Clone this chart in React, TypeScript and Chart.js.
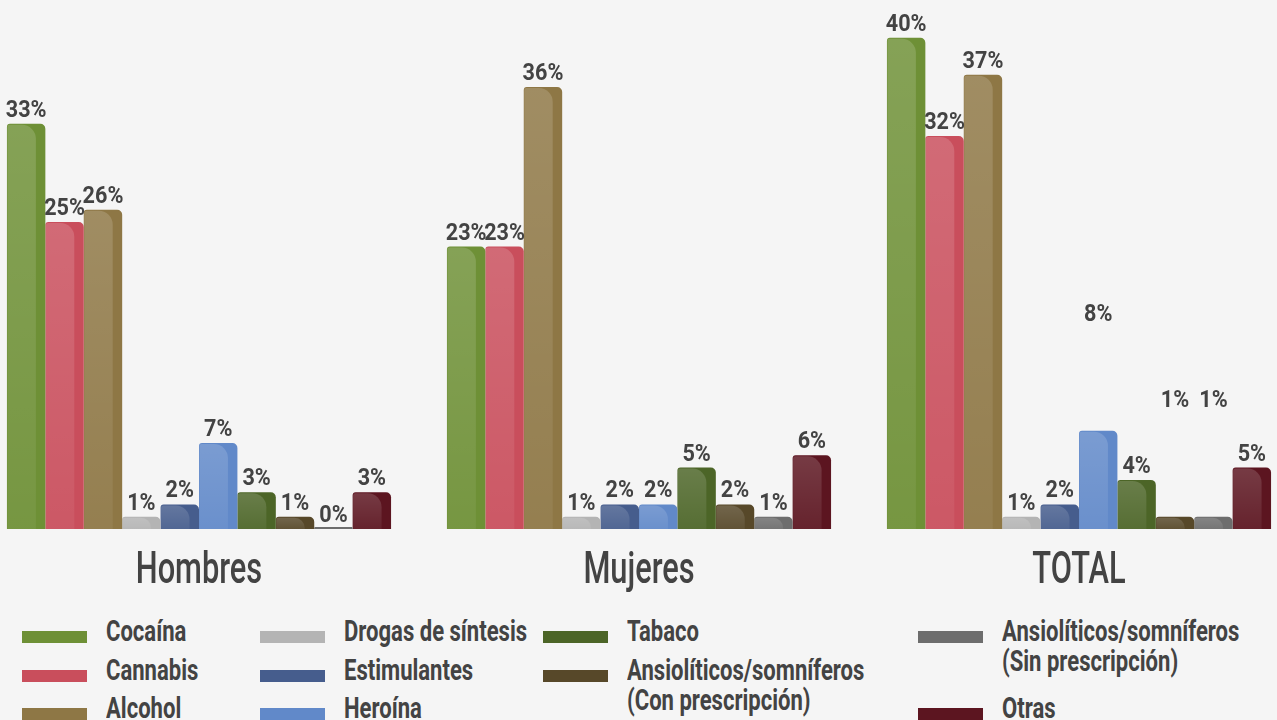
import React, { useEffect, useRef } from 'react';
import { Chart, registerables } from 'chart.js';

Chart.register(...registerables);

// ---------- data ----------
const categories = ['Hombres', 'Mujeres', 'TOTAL'];

const seriesNames = [
  'Cocaína',
  'Cannabis',
  'Alcohol',
  'Drogas de síntesis',
  'Estimulantes',
  'Heroína',
  'Tabaco',
  'Ansiolíticos/somníferos\n(Con prescripción)',
  'Ansiolíticos/somníferos\n(Sin prescripción)',
  'Otras',
];

const seriesColors = [
  '#6e9036',
  '#c94e5c',
  '#8e7745',
  '#b4b4b4',
  '#465d8d',
  '#6189c9',
  '#4c6527',
  '#574829',
  '#6d6d6d',
  '#5c1520',
];

const cocaina = [33, 23, 40];
const cannabis = [25, 23, 32];
const alcohol = [26, 36, 37];
const drogasSintesis = [1, 1, 1];
const estimulantes = [2, 2, 2];
const heroina = [7, 2, 8];
const tabaco = [3, 5, 4];
const ansioCon = [1, 2, 1];
const ansioSin = [0, 1, 1];
const otras = [3, 6, 5];

// value level (in %) at which the label is drawn (the original places some TOTAL labels higher)
const heroinaLabelLevel = [7, 2, 16.4];
const ansioConLabelLevel = [1, 2, 9.4];
const ansioSinLabelLevel = [0, 1, 9.4];

const seriesValues = [
  cocaina,
  cannabis,
  alcohol,
  drogasSintesis,
  estimulantes,
  heroina,
  tabaco,
  ansioCon,
  ansioSin,
  otras,
];

const labelLevels = [
  cocaina,
  cannabis,
  alcohol,
  drogasSintesis,
  estimulantes,
  heroinaLabelLevel,
  tabaco,
  ansioConLabelLevel,
  ansioSinLabelLevel,
  otras,
];

// ---------- legend layout ----------
const legendCols = [22, 260, 543, 918];
const legendRowBaselines = [641, 680, 718];
const legendPlacement: [number, number][] = [
  [0, 0],
  [0, 1],
  [0, 2],
  [1, 0],
  [1, 1],
  [1, 2],
  [2, 0],
  [2, 1],
  [3, 0],
  [3, 2],
];

const TEXT = '#434343';
const BG = '#f5f5f5';

const decoPlugin = {
  id: 'deco',
  afterDatasetsDraw(chart: any) {
    const ctx = chart.ctx as CanvasRenderingContext2D;
    const yScale = chart.scales.y;
    const xScale = chart.scales.x;
    // highlights
    chart.data.datasets.forEach((_ds: any, i: number) => {
      const meta = chart.getDatasetMeta(i);
      meta.data.forEach((el: any) => {
        const { x, y, base, width } = el.getProps(['x', 'y', 'base', 'width'], true);
        const h = base - y;
        if (h < 4) return;
        const left = x - width / 2 + 0.5;
        const hw = width * 0.74;
        const top = y + 1;
        const r = Math.min(14, h - 2, hw - 3);
        const g = ctx.createLinearGradient(0, top, 0, base);
        g.addColorStop(0, 'rgba(255,255,255,0.16)');
        g.addColorStop(1, 'rgba(255,255,255,0.06)');
        ctx.save();
        ctx.beginPath();
        ctx.moveTo(left, base);
        ctx.lineTo(left, top + 2);
        ctx.quadraticCurveTo(left, top, left + 2, top);
        ctx.lineTo(left + hw - r, top);
        ctx.arcTo(left + hw, top, left + hw, top + r, r);
        ctx.lineTo(left + hw, base);
        ctx.closePath();
        ctx.fillStyle = g;
        ctx.fill();
        ctx.restore();
      });
    });
    // value labels
    chart.data.datasets.forEach((_ds: any, i: number) => {
      const meta = chart.getDatasetMeta(i);
      meta.data.forEach((el: any, j: number) => {
        const x = el.x;
        const yPix = yScale.getPixelForValue(labelLevels[i][j]) - 7;
        ctx.save();
        ctx.font = 'bold 24px Roboto';
        ctx.fillStyle = TEXT;
        ctx.textAlign = 'center';
        ctx.textBaseline = 'alphabetic';
        ctx.translate(x, yPix);
        ctx.scale(0.9, 1);
        ctx.fillText(`${seriesValues[i][j]}%`, 0, 0);
        ctx.restore();
      });
    });
    // category labels
    categories.forEach((c, j) => {
      const x = xScale.getPixelForValue(j);
      ctx.save();
      ctx.font = '500 44px Roboto';
      ctx.fillStyle = TEXT;
      ctx.textAlign = 'center';
      ctx.textBaseline = 'alphabetic';
      ctx.translate(x, 583);
      ctx.scale(0.7, 1);
      ctx.fillText(c, 0, 0);
      ctx.restore();
    });
  },
};

function ChartCanvas() {
  const ref = useRef<HTMLCanvasElement | null>(null);
  useEffect(() => {
    if (!ref.current) return;
    const chart = new Chart(ref.current, {
      type: 'bar',
      data: {
        labels: categories,
        datasets: seriesNames.map((name, i) => ({
          label: name,
          data: seriesValues[i],
          backgroundColor: seriesColors[i],
          borderWidth: 0,
          borderRadius: { topLeft: 3, topRight: 5, bottomLeft: 0, bottomRight: 0 },
          borderSkipped: 'bottom',
          categoryPercentage: 0.873,
          barPercentage: 1,
          minBarLength: 2,
          clip: false,
        })) as any,
      },
      options: {
        animation: false,
        responsive: false,
        maintainAspectRatio: false,
        layout: { padding: { left: 199, right: 198, top: 1, bottom: 71 } },
        plugins: {
          legend: { display: false },
          tooltip: { enabled: false },
        },
        scales: {
          x: { type: 'category', display: false, offset: false, grid: { offset: false } },
          y: { display: false, min: 0, max: 43 },
        },
      } as any,
      plugins: [decoPlugin],
    });
    return () => chart.destroy();
  }, []);
  return (
    <canvas
      ref={ref}
      width={1277}
      height={600}
      style={{ position: 'absolute', left: 0, top: 0, width: 1277, height: 600, display: 'block' }}
    />
  );
}

export default function App() {
  useEffect(() => {
    document.body.style.margin = '0';
    document.body.style.background = BG;
    document.documentElement.style.background = BG;
  }, []);
  return (
    <div style={{ position: 'relative', width: 1277, height: 720, background: BG, overflow: 'hidden' }}>
      <ChartCanvas />
      {seriesNames.map((name, i) => {
        const [col, row] = legendPlacement[i];
        const left = legendCols[col];
        const baseline = legendRowBaselines[row];
        return (
          <React.Fragment key={name}>
            <div
              style={{
                position: 'absolute',
                left,
                top: baseline - 10,
                width: 65,
                height: 12,
                background: seriesColors[i],
              }}
            />
            <div
              style={{
                position: 'absolute',
                left: left + 84,
                top: baseline - 25,
                fontFamily: 'Roboto',
                fontWeight: 700,
                fontSize: 30,
                lineHeight: '30px',
                color: TEXT,
                whiteSpace: 'pre',
                transform: 'scaleX(0.735)',
                transformOrigin: '0 0',
              }}
            >
              {name}
            </div>
          </React.Fragment>
        );
      })}
    </div>
  );
}
